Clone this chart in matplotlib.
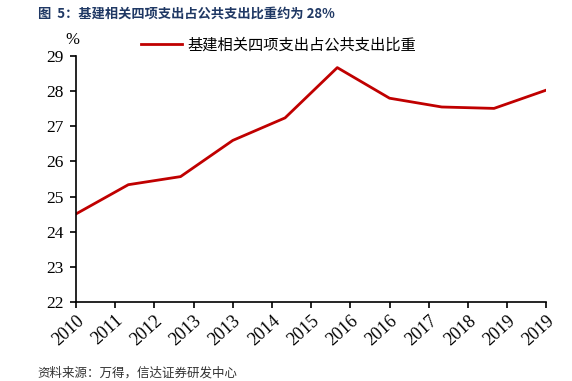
import numpy as np
import matplotlib
matplotlib.use("Agg")
import matplotlib.pyplot as plt

plt.rcParams['font.family'] = ['Noto Sans CJK SC', 'DejaVu Sans']

# datos
years = ["2010", "2011", "2012", "2013", "2014", "2015", "2016", "2017", "2018", "2019"]
share = [24.51, 25.34, 25.57, 26.60, 27.24, 28.67, 27.80, 27.55, 27.51, 28.03]
tick_labels = ["2010", "2011", "2012", "2013", "2013", "2014", "2015",
               "2016", "2016", "2017", "2018", "2019", "2019"]
y_ticks = [22, 23, 24, 25, 26, 27, 28, 29]

serif = ['Liberation Serif', 'DejaVu Serif']

fig = plt.figure(figsize=(5.72, 3.81), dpi=100)
ax = fig.add_axes([0.133, 0.207, 0.822, 0.646])

x = np.arange(len(years))
line, = ax.plot(x, share, color='#C00000', linewidth=2.0,
                label="基建相关四项支出占公共支出比重")

ax.set_xlim(0, len(years) - 1)
ax.set_ylim(22, 29)
ax.set_yticks(y_ticks)
ax.set_yticklabels([str(v) for v in y_ticks], fontfamily=serif, fontsize=12.5)

pos = np.linspace(0, len(years) - 1, len(tick_labels))
ax.set_xticks(pos)
ax.set_xticklabels(tick_labels, fontfamily=serif, fontsize=13,
                   rotation=42, ha='right', rotation_mode='anchor')

for s in ['top', 'right']:
    ax.spines[s].set_visible(False)
for s in ['left', 'bottom']:
    ax.spines[s].set_linewidth(1.2)
ax.tick_params(axis='both', direction='out', length=4, width=1.2, colors='black')
ax.tick_params(axis='y', pad=5)
ax.tick_params(axis='x', pad=3)

leg = fig.legend(handles=[line], loc='center left', bbox_to_anchor=(0.235, 0.882),
                 frameon=False, fontsize=11, handlelength=2.7, handletextpad=0.4,
                 borderaxespad=0)

fig.text(0.127, 0.895, "%", fontfamily=serif, fontsize=12, ha='center', va='center')

fig.text(0.066, 0.963, "图  5：基建相关四项支出占公共支出比重约为 28%", fontsize=9.5,
         fontweight='bold', color='#1F3864', ha='left', va='center')

fig.text(0.066, 0.004, "资料来源：万得，信达证券研发中心", fontsize=9, style='italic',
         color='#333333', ha='left', va='bottom')

fig.savefig("out.png", dpi=100)
